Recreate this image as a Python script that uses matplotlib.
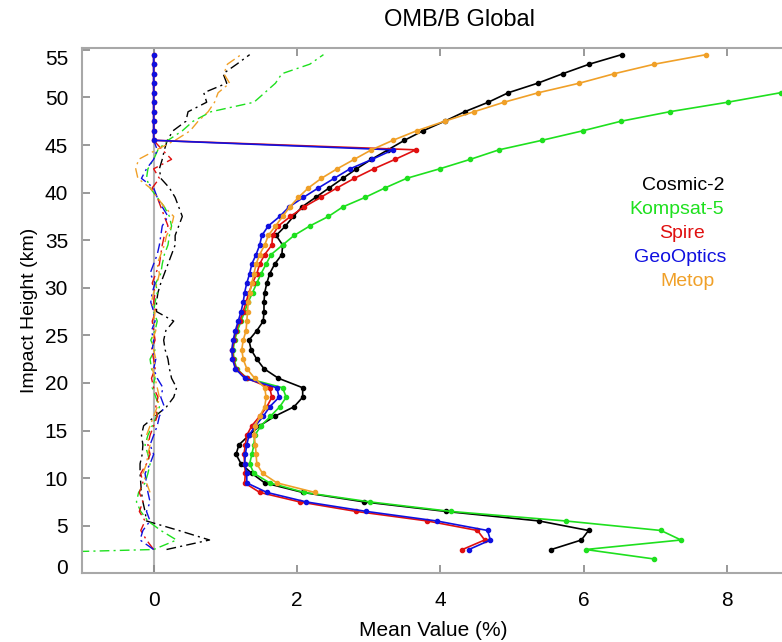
import numpy as np
import matplotlib
matplotlib.use("Agg")
import matplotlib.pyplot as plt
import matplotlib.transforms as mtransforms

plt.rcParams["font.family"] = ["Liberation Sans", "DejaVu Sans"]

# impact heights (km)
hgt = np.arange(2.5, 55, 1.0)          # 2.5 ... 54.5
hgt_k5 = np.arange(1.5, 55, 1.0)       # Kompsat-5 starts one level lower
hgt_mt = np.arange(8.5, 55, 1.0)       # Metop starts at 8.5 km

# std-like curves (solid)
cosmic2 = [5.55, 5.97, 6.07, 5.38, 4.08, 2.94, 2.08, 1.55, 1.37, 1.22,
           1.15, 1.19, 1.33, 1.48, 1.69, 1.96, 2.08, 2.08, 1.74, 1.54,
           1.44, 1.36, 1.33, 1.44, 1.53, 1.54, 1.54, 1.55, 1.58, 1.62,
           1.69, 1.79, 1.80, 1.71, 1.84, 1.95, 2.07, 2.26, 2.45, 2.64,
           2.83, 3.04, 3.27, 3.50, 3.76, 4.06, 4.34, 4.67, 4.95, 5.36,
           5.71, 6.08, 6.53]
kompsat5 = [6.99, 6.03, 7.36, 7.08, 5.75, 4.15, 3.02, 2.10, 1.62, 1.40,
            1.34, 1.37, 1.40, 1.41, 1.50, 1.63, 1.76, 1.85, 1.80, 1.30,
            1.16, 1.12, 1.11, 1.13, 1.17, 1.22, 1.27, 1.32, 1.38, 1.44,
            1.50, 1.57, 1.64, 1.80, 1.96, 2.18, 2.44, 2.64, 2.95, 3.23,
            3.53, 3.99, 4.42, 4.82, 5.42, 5.99, 6.52, 7.20, 8.01, 8.75,
            9.60, 10.4, 11.2, 12.0]
spire = [4.31, 4.62, 4.52, 3.82, 2.83, 2.04, 1.48, 1.27, 1.28, 1.27,
         1.26, 1.28, 1.30, 1.37, 1.48, 1.58, 1.65, 1.62, 1.30, 1.15,
         1.11, 1.10, 1.12, 1.15, 1.20, 1.25, 1.29, 1.33, 1.38, 1.44,
         1.48, 1.55, 1.65, 1.66, 1.74, 1.91, 2.10, 2.33, 2.56, 2.80,
         3.07, 3.37, 3.66, 0, 0, 0, 0, 0, 0, 0,
         0, 0, 0]
geooptics = [4.40, 4.70, 4.66, 3.95, 2.97, 2.13, 1.58, 1.30, 1.30, 1.27,
             1.28, 1.30, 1.33, 1.42, 1.53, 1.62, 1.75, 1.72, 1.27, 1.14,
             1.10, 1.09, 1.11, 1.14, 1.18, 1.22, 1.25, 1.27, 1.30, 1.34,
             1.37, 1.43, 1.48, 1.51, 1.60, 1.76, 1.89, 2.09, 2.30, 2.52,
             2.74, 3.05, 3.34, 0, 0, 0, 0, 0, 0, 0,
             0, 0, 0]
metop = [2.25, 1.72, 1.52, 1.44, 1.43, 1.42, 1.40, 1.42, 1.48, 1.55,
         1.57, 1.55, 1.41, 1.30, 1.25, 1.23, 1.25, 1.29, 1.30, 1.31,
         1.32, 1.34, 1.37, 1.40, 1.43, 1.48, 1.55, 1.60, 1.70, 1.80,
         1.90, 2.02, 2.16, 2.34, 2.56, 2.80, 3.04, 3.34, 3.67, 4.06,
         4.47, 4.89, 5.37, 5.94, 6.43, 6.99, 7.71]

# mean curves (dash-dot)
cosmic2_m = [0.18, 0.78, 0.35, -0.10, -0.12, -0.15, -0.17, -0.18, -0.19, -0.19,
             -0.16, -0.15, -0.17, -0.14, 0.02, 0.18, 0.28, 0.32, 0.25, 0.22,
             0.20, 0.16, 0.14, 0.17, 0.28, 0.04, 0.04, 0.06, 0.10, 0.15,
             0.20, 0.25, 0.30, 0.30, 0.35, 0.40, 0.35, 0.30, 0.22, 0.10,
             0.08, 0.12, 0.15, 0.19, 0.27, 0.45, 0.48, 0.74, 0.70, 1.02,
             0.97, 1.16, 1.34]
kompsat5_m = [-5.0, 0.0, 0.32, 0.10, -0.08, -0.18, -0.24, -0.21, -0.12, -0.08,
              -0.05, -0.08, -0.12, -0.08, -0.02, 0.04, 0.08, 0.03, -0.02, 0.02,
              -0.03, -0.05, 0.02, -0.04, 0.02, 0.05, 0.00, 0.02, 0.05, 0.03,
              0.10, 0.12, 0.15, 0.20, 0.22, 0.25, 0.22, 0.15, 0.05, -0.05,
              -0.10, -0.08, 0.00, 0.06, 0.20, 0.40, 0.55, 0.80, 1.40, 1.55,
              1.70, 1.79, 2.18, 2.37]
spire_m = [0.00, -0.10, -0.18, -0.12, -0.20, -0.15, -0.20, -0.15, -0.18, -0.10,
           -0.05, -0.08, -0.05, 0.00, 0.05, 0.03, 0.06, 0.00, -0.03, 0.02,
           0.00, -0.03, 0.02, 0.00, -0.02, 0.03, 0.00, 0.02, -0.02, 0.03,
           0.08, 0.10, 0.12, 0.15, 0.20, 0.15, 0.10, 0.05, -0.02, 0.08,
           0.00, 0.25, 0.12, 0, 0, 0, 0, 0, 0, 0,
           0, 0, 0]
geooptics_m = [0.00, -0.19, -0.15, -0.05, -0.10, -0.05, -0.08, -0.10, -0.12, -0.05,
               0.00, -0.05, 0.00, 0.05, 0.08, 0.15, 0.10, 0.13, 0.05, 0.00,
               0.03, -0.02, 0.00, -0.03, 0.02, 0.00, -0.04, -0.02, 0.02, -0.05,
               0.00, 0.05, 0.08, 0.10, 0.12, 0.20, 0.12, 0.05, 0.00, -0.17,
               -0.10, 0.00, 0.05, 0, 0, 0, 0, 0, 0, 0,
               0, 0, 0]
metop_m = [-0.05, -0.10, -0.15, -0.10, -0.08, -0.05, -0.10, -0.05, 0.00, 0.05,
           0.08, 0.05, 0.02, -0.02, 0.03, 0.00, -0.02, 0.03, 0.00, 0.02,
           -0.03, 0.00, 0.05, 0.08, 0.05, 0.10, 0.15, 0.18, 0.25, 0.28,
           0.15, 0.05, -0.05, -0.22, -0.25, -0.21, 0.04, 0.30, 0.51, 0.62,
           0.76, 0.85, 0.90, 1.06, 0.98, 1.03, 1.22]

names = ["Cosmic-2", "Kompsat-5", "Spire", "GeoOptics", "Metop"]
colors = ["#000000", "#1ee01e", "#e01010", "#1010e0", "#f0a028"]

series = [(hgt, cosmic2, cosmic2_m), (hgt_k5, kompsat5, kompsat5_m),
          (hgt, spire, spire_m), (hgt, geooptics, geooptics_m),
          (hgt_mt, metop, metop_m)]

fig = plt.figure(figsize=(7.82, 6.42), dpi=100)
ax = fig.add_axes([82 / 782, 1 - 573.3 / 642, 1 - 82 / 782, (573.3 - 48) / 642])

ax.axvline(0, color="#b4b4b4", lw=1.5, zorder=1)

for (h, s, m), c in zip(series, colors):
    ax.plot(m, h, color=c, lw=1.0, ls=(0, (7, 3, 1.5, 3)), zorder=2)
for (h, s, m), c in zip(series, colors):
    ax.plot(s, h, color=c, lw=1.2, marker="o", ms=3, zorder=3)

ax.set_xlim(-1, 8.77)
ax.set_ylim(0, 55.2)
ax.set_xticks([0, 2, 4, 6, 8])
ax.set_yticks(range(0, 56, 5))

for side in ["left", "bottom", "top"]:
    ax.spines[side].set_color("#a8a8a8")
    ax.spines[side].set_linewidth(1.5)
ax.spines["right"].set_visible(False)
ax.tick_params(direction="in", length=6, width=1.2, color="#888888",
               labelsize=15, top=True)
ax.tick_params(axis="y", pad=10)
ax.tick_params(axis="x", pad=13)

# end labels on the y axis sit a bit inside the axis range
ylabs = ax.get_yticklabels()
ylabs[0].set_transform(ylabs[0].get_transform() +
                       mtransforms.ScaledTranslation(0, 7 / 100, fig.dpi_scale_trans))
ylabs[-1].set_transform(ylabs[-1].get_transform() +
                        mtransforms.ScaledTranslation(0, -8 / 100, fig.dpi_scale_trans))

fig.text(460 / 782, 1 - 20 / 642, "OMB/B Global", ha="center", va="center", fontsize=17)
fig.text(433 / 782, 1 - 631 / 642, "Mean Value (%)", ha="center", va="center", fontsize=15)
fig.text(30 / 782, 1 - 310 / 642, "Impact Height (km)", ha="center", va="center",
         rotation=90, fontsize=14)

leg_y = [185, 209, 233, 257, 281]
leg_x = [683, 677, 682, 680, 687]
for n, c, lx, ly in zip(names, colors, leg_x, leg_y):
    fig.text(lx / 782, 1 - ly / 642, n, color=c, ha="center", va="center", fontsize=14)

fig.savefig("out.png", dpi=100)
